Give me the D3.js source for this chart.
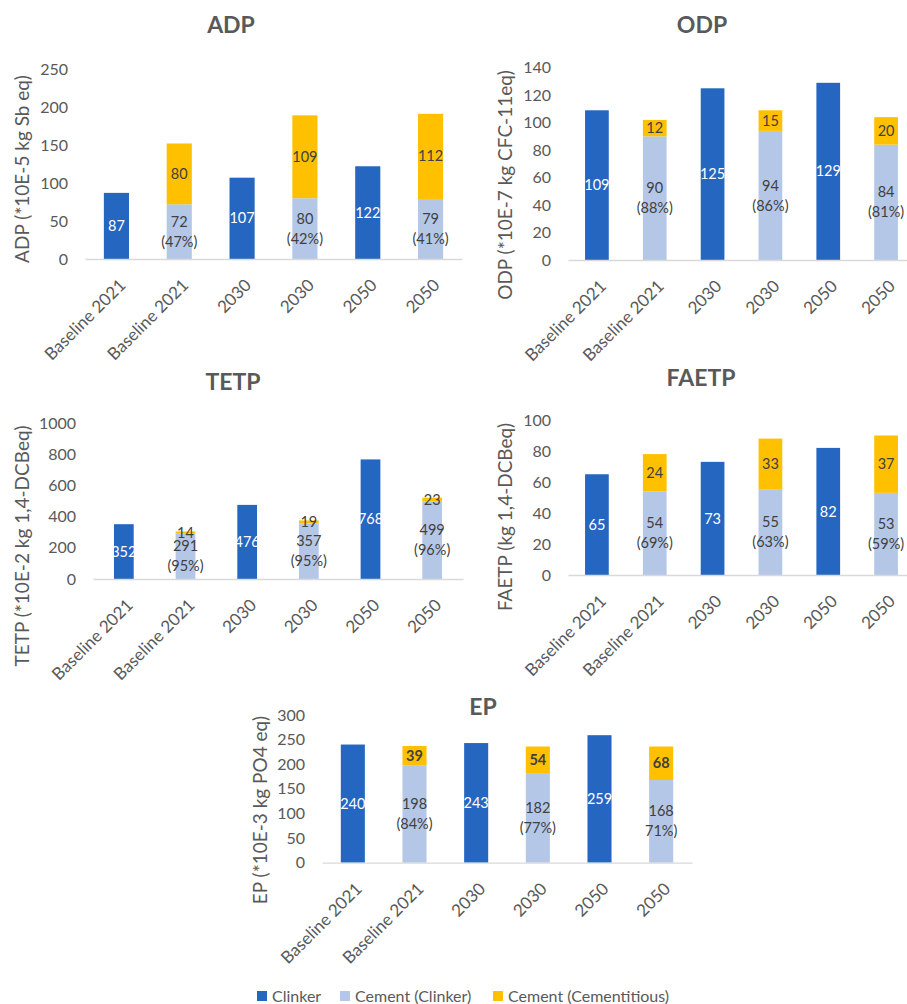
<!DOCTYPE html>
<html>
<head>
<meta charset="utf-8">
<script src="https://cdn.jsdelivr.net/npm/d3@7"></script>
<style>
  html, body { margin: 0; padding: 0; background: #ffffff; }
  svg { display: block; font-family: Lato, "Open Sans", sans-serif; }
</style>
</head>
<body>
<svg id="chart" width="907" height="1004"></svg>
<script>
// Scenario categories shared by every panel (pairs: clinker bar, cement bar)
const categories = ["Baseline 2021", "Baseline 2021", "2030", "2030", "2050", "2050"];
const seriesNames = ["Clinker", "Cement (Clinker)", "Cement (Cementitious)"];

// ADP
const adpClinker = [87, 107, 122];
const adpCementClinker = [72, 80, 79];
const adpShare = ["(47%)", "(42%)", "(41%)"];
const adpCementitious = [80, 109, 112];
const adpTicks = [0, 50, 100, 150, 200, 250];

// ODP
const odpClinker = [109, 125, 129];
const odpCementClinker = [90, 94, 84];
const odpShare = ["(88%)", "(86%)", "(81%)"];
const odpCementitious = [12, 15, 20];
const odpTicks = [0, 20, 40, 60, 80, 100, 120, 140];

// TETP
const tetpClinker = [352, 476, 768];
const tetpCementClinker = [291, 357, 499];
const tetpShare = ["(95%)", "(95%)", "(96%)"];
const tetpCementitious = [14, 19, 23];
const tetpTicks = [0, 200, 400, 600, 800, 1000];

// FAETP
const faetpClinker = [65, 73, 82];
const faetpCementClinker = [54, 55, 53];
const faetpShare = ["(69%)", "(63%)", "(59%)"];
const faetpCementitious = [24, 33, 37];
const faetpTicks = [0, 20, 40, 60, 80, 100];

// EP
const epClinker = [240, 243, 259];
const epCementClinker = [198, 182, 168];
const epShare = ["(84%)", "(77%)", "71%)"];
const epCementitious = [39, 54, 68];
const epTicks = [0, 50, 100, 150, 200, 250, 300];

const colors = { clinker: "#2566C0", cementClinker: "#B4C7E7", cementitious: "#FFC000" };
const textGray = "#595959";
const labelDark = "#404040";
const fontStack = "Lato, 'Open Sans', sans-serif";

// Panel layout: plot rectangle, title and axis-title placement
const panels = [
  { title: "ADP", yTitle: "ADP (*10E-5 kg Sb eq)", clinker: adpClinker, cc: adpCementClinker, share: adpShare, cem: adpCementitious, ticks: adpTicks,
    x0: 85, x1: 462, yTop: 69, yBot: 259, barFrac: 0.4, titleX: 231, titleY: 33, yTitleX: 22, yTitleY: 169, boldCem: false },
  { title: "ODP", yTitle: "ODP (*10E-7 kg CFC-11eq)", clinker: odpClinker, cc: odpCementClinker, share: odpShare, cem: odpCementitious, ticks: odpTicks,
    x0: 568, x1: 915, yTop: 67.7, yBot: 260, barFrac: 0.41, titleX: 702, titleY: 33, yTitleX: 505, yTitleY: 185, boldCem: false },
  { title: "TETP", yTitle: "TETP (*10E-2 kg 1,4-DCBeq)", clinker: tetpClinker, cc: tetpCementClinker, share: tetpShare, cem: tetpCementitious, ticks: tetpTicks,
    x0: 93, x1: 463, yTop: 423.3, yBot: 579, barFrac: 0.32, titleX: 233, titleY: 390, yTitleX: 22.5, yTitleY: 546, boldCem: false },
  { title: "FAETP", yTitle: "FAETP (kg 1,4-DCBeq)", clinker: faetpClinker, cc: faetpCementClinker, share: faetpShare, cem: faetpCementitious, ticks: faetpTicks,
    x0: 568, x1: 915, yTop: 420, yBot: 575, barFrac: 0.41, titleX: 701, titleY: 386, yTitleX: 505, yTitleY: 517, boldCem: false },
  { title: "EP", yTitle: "EP (*10E-3 kg PO4 eq)", clinker: epClinker, cc: epCementClinker, share: epShare, cem: epCementitious, ticks: epTicks,
    x0: 322, x1: 692, yTop: 715, yBot: 862.7, barFrac: 0.39, titleX: 483, titleY: 715, yTitleX: 260, yTitleY: 810, boldCem: true }
];

const svg = d3.select("#chart");

panels.forEach(p => {
  const g = svg.append("g");
  const idx = d3.range(categories.length);
  const x = d3.scaleBand().domain(idx).range([p.x0, p.x1]).paddingInner(0).paddingOuter(0);
  const y = d3.scaleLinear().domain([0, d3.max(p.ticks)]).range([p.yBot, p.yTop]);
  const bw = x.bandwidth() * p.barFrac;
  const bx = i => x(i) + (x.bandwidth() - bw) / 2;
  const cx = i => x(i) + x.bandwidth() / 2;

  // Stacked rows: clinker bars at even slots, cement bars at odd slots
  const segs = [];
  p.clinker.forEach((v, k) => segs.push({ i: 2 * k, y0: 0, y1: v, fill: colors.clinker, lines: [String(v)], color: "#ffffff", bold: false }));
  p.cc.forEach((v, k) => segs.push({ i: 2 * k + 1, y0: 0, y1: v, fill: colors.cementClinker, lines: [String(v), p.share[k]], color: labelDark, bold: false }));
  p.cem.forEach((v, k) => segs.push({ i: 2 * k + 1, y0: p.cc[k], y1: p.cc[k] + v, fill: colors.cementitious, lines: [String(v)], color: labelDark, bold: p.boldCem }));

  // Y axis: tick labels only
  const yAxis = g.append("g").attr("transform", `translate(${p.x0},0)`)
    .call(d3.axisLeft(y).tickValues(p.ticks).tickFormat(d3.format("d")).tickSize(0).tickPadding(17));
  yAxis.select(".domain").remove();
  yAxis.selectAll("text").attr("fill", textGray).style("font-size", "16px").style("font-family", fontStack);

  g.selectAll("rect.seg").data(segs).join("rect")
    .attr("class", "seg")
    .attr("x", d => bx(d.i))
    .attr("width", bw)
    .attr("y", d => y(d.y1))
    .attr("height", d => y(d.y0) - y(d.y1))
    .attr("fill", d => d.fill);

  // X axis: baseline and rotated category labels
  const xAxis = g.append("g").attr("transform", `translate(0,${p.yBot})`)
    .call(d3.axisBottom(x).tickSize(0).tickFormat(i => categories[i]));
  xAxis.select(".domain").attr("stroke", "#D9D9D9").attr("stroke-width", 1.3);
  xAxis.selectAll("text")
    .attr("x", 0).attr("y", 0).attr("dy", "0.35em")
    .attr("transform", "translate(6,23) rotate(-45)")
    .attr("text-anchor", "end")
    .attr("fill", textGray)
    .style("font-size", "17px")
    .style("font-family", fontStack);

  // Segment value labels centred in each segment
  const lbl = g.selectAll("text.val").data(segs).join("text")
    .attr("class", "val")
    .attr("text-anchor", "middle")
    .attr("fill", d => d.color)
    .style("font-size", "14.5px")
    .style("font-weight", d => d.bold ? "700" : "400");
  lbl.each(function (d) {
    const t = d3.select(this);
    const mid = (y(d.y0) + y(d.y1)) / 2;
    const n = d.lines.length;
    d.lines.forEach((s, j) => {
      t.append("tspan").attr("x", cx(d.i)).attr("y", mid + (j - (n - 1) / 2) * 20).attr("dy", "0.35em").text(s);
    });
  });

  // Panel title
  g.append("text").attr("x", p.titleX).attr("y", p.titleY).attr("text-anchor", "middle")
    .attr("fill", textGray).style("font-size", "23px").style("font-weight", "700").text(p.title);

  // Y axis title
  g.append("text").attr("transform", `translate(${p.yTitleX},${p.yTitleY}) rotate(-90)`)
    .attr("text-anchor", "middle").attr("dy", "0.35em")
    .attr("fill", textGray).style("font-size", "19px").text(p.yTitle);
});

// Legend
const legendColors = [colors.clinker, colors.cementClinker, colors.cementitious];
const legendX = [257, 340, 493];
const leg = svg.append("g").selectAll("g").data(seriesNames).join("g")
  .attr("transform", (d, i) => `translate(${legendX[i]},991)`);
leg.append("rect").attr("width", 10).attr("height", 10).attr("fill", (d, i) => legendColors[i]);
leg.append("text").attr("x", 15).attr("y", 5).attr("dy", "0.35em")
  .attr("fill", textGray).style("font-size", "16px").text(d => d);
</script>
</body>
</html>
